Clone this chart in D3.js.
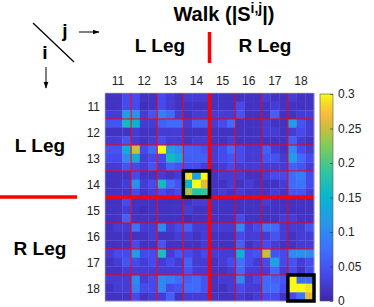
<!DOCTYPE html>
<html lang="en">
<head>
    <meta charset="UTF-8">
    <title>Walk |S(i,j)| matrix</title>
    <style>
        body { margin: 0; background: #fff; }
        svg { display: block; font-family: "Liberation Sans", Arial, Helvetica, sans-serif; }
    </style>
    <script src="https://d3js.org/d3.v7.min.js"></script>
</head>
<body>
    <div id="chart"></div>

    <script>
        // segment labels (rows i / columns j), 3 sub-cells per segment
        const segments = ["11", "12", "13", "14", "15", "16", "17", "18"];
        const colorTicks = [0, 0.05, 0.1, 0.15, 0.2, 0.25, 0.3];
        const highlighted = ["14", "18"];

        // |S(i,j)| values, 24 x 24
        const values = [
            [0.015,0.015,0.04, 0.04,0.015,0.015, 0.04,0.025,0.015, 0.025,0.025,0.025, 0.015,0.015,0.015, 0.015,0.015,0.015, 0.025,0.015,0.015, 0.025,0.015,0.015],
            [0.015,0.015,0.04, 0.04,0.01,0.015, 0.04,0.025,0.015, 0.015,0.015,0.015, 0.015,0.015,0.015, 0.04,0.015,0.015, 0.015,0.025,0.015, 0.015,0.015,0.015],
            [0.025,0.025,0.12, 0.11,0.025,0.05, 0.09,0.07,0.025, 0.015,0.025,0.025, 0.025,0.025,0.025, 0.05,0.015,0.015, 0.015,0.06,0.015, 0.015,0.025,0.025],
            [0.05,0.05,0.16, 0.15,0.025,0.025, 0.06,0.07,0.07, 0.025,0.06,0.06, 0.025,0.04,0.07, 0.015,0.015,0.015, 0.025,0.015,0.015, 0.12,0.05,0.025],
            [0.015,0.015,0.015, 0.025,0.015,0.015, 0.025,0.025,0.025, 0.015,0.015,0.015, 0.015,0.015,0.015, 0.015,0.015,0.015, 0.025,0.025,0.015, 0.025,0.04,0.025],
            [0.025,0.025,0.05, 0.025,0.015,0.025, 0.04,0.025,0.025, 0.015,0.025,0.025, 0.015,0.015,0.025, 0.015,0.015,0.015, 0.015,0.015,0.015, 0.06,0.025,0.015],
            [0.05,0.05,0.14, 0.25,0.04,0.07, 0.30,0.12,0.10, 0.06,0.06,0.05, 0.025,0.04,0.07, 0.04,0.025,0.025, 0.06,0.025,0.015, 0.10,0.04,0.025],
            [0.04,0.04,0.10, 0.14,0.025,0.04, 0.04,0.16,0.13, 0.06,0.06,0.06, 0.025,0.04,0.05, 0.04,0.025,0.025, 0.05,0.05,0.025, 0.12,0.07,0.04],
            [0.025,0.025,0.05, 0.04,0.025,0.05, 0.025,0.06,0.05, 0.04,0.04,0.025, 0.015,0.025,0.04, 0.025,0.025,0.025, 0.025,0.025,0.025, 0.06,0.05,0.025],
            [0.015,0.015,0.015, 0.04,0.015,0.015, 0.025,0.015,0.025, 0.29,0.12,0.30, 0.015,0.025,0.025, 0.025,0.015,0.015, 0.025,0.04,0.04, 0.07,0.09,0.04],
            [0.015,0.015,0.025, 0.11,0.025,0.04, 0.16,0.07,0.05, 0.15,0.30,0.26, 0.015,0.015,0.025, 0.015,0.025,0.015, 0.015,0.015,0.025, 0.07,0.08,0.04],
            [0.015,0.015,0.015, 0.04,0.015,0.025, 0.04,0.025,0.04, 0.24,0.18,0.19, 0.015,0.025,0.015, 0.025,0.015,0.015, 0.015,0.025,0.015, 0.05,0.05,0.025],
            [0.015,0.015,0.04, 0.015,0.015,0.015, 0.015,0.015,0.015, 0.015,0.025,0.025, 0.015,0.015,0.015, 0.015,0.015,0.015, 0.025,0.015,0.015, 0.015,0.015,0.015],
            [0.015,0.015,0.025, 0.015,0.01,0.015, 0.015,0.015,0.015, 0.025,0.015,0.015, 0.015,0.015,0.015, 0.015,0.015,0.015, 0.015,0.015,0.015, 0.015,0.015,0.015],
            [0.015,0.015,0.06, 0.015,0.015,0.015, 0.015,0.015,0.015, 0.01,0.015,0.015, 0.015,0.015,0.015, 0.04,0.015,0.015, 0.015,0.015,0.025, 0.025,0.015,0.015],
            [0.015,0.025,0.025, 0.08,0.025,0.025, 0.10,0.025,0.04, 0.06,0.025,0.025, 0.025,0.025,0.025, 0.10,0.025,0.04, 0.08,0.07,0.025, 0.025,0.025,0.05],
            [0.015,0.015,0.015, 0.015,0.015,0.025, 0.015,0.015,0.025, 0.025,0.015,0.025, 0.015,0.015,0.015, 0.04,0.025,0.025, 0.025,0.05,0.025, 0.015,0.025,0.025],
            [0.015,0.015,0.015, 0.04,0.015,0.015, 0.05,0.015,0.015, 0.015,0.015,0.025, 0.015,0.015,0.015, 0.06,0.015,0.025, 0.04,0.025,0.015, 0.015,0.025,0.025],
            [0.025,0.04,0.04, 0.12,0.04,0.04, 0.17,0.025,0.05, 0.04,0.025,0.04, 0.025,0.025,0.025, 0.15,0.04,0.05, 0.25,0.05,0.04, 0.10,0.11,0.10],
            [0.015,0.025,0.05, 0.04,0.025,0.04, 0.025,0.04,0.025, 0.06,0.025,0.025, 0.015,0.025,0.04, 0.08,0.04,0.025, 0.04,0.13,0.04, 0.05,0.025,0.04],
            [0.015,0.015,0.025, 0.025,0.025,0.025, 0.025,0.025,0.025, 0.05,0.025,0.025, 0.015,0.015,0.025, 0.07,0.025,0.025, 0.025,0.07,0.025, 0.04,0.015,0.04],
            [0.025,0.025,0.025, 0.10,0.025,0.04, 0.10,0.09,0.07, 0.06,0.07,0.05, 0.015,0.025,0.025, 0.10,0.025,0.04, 0.07,0.06,0.05, 0.30,0.07,0.07],
            [0.015,0.025,0.025, 0.09,0.04,0.04, 0.10,0.04,0.05, 0.07,0.07,0.05, 0.015,0.015,0.025, 0.04,0.025,0.025, 0.07,0.07,0.04, 0.30,0.30,0.29],
            [0.015,0.015,0.015, 0.04,0.015,0.025, 0.025,0.06,0.015, 0.025,0.025,0.025, 0.015,0.015,0.015, 0.025,0.015,0.025, 0.04,0.04,0.015, 0.04,0.08,0.26]
        ];

        // parula-like colormap
        const parulaStops = [0, 0.125, 0.25, 0.375, 0.5, 0.625, 0.75, 0.85, 0.9, 0.95, 1];
        const parulaColors = ["#3e26a8", "#4747eb", "#3e6ffe", "#2796eb", "#08b5d0", "#31c59f", "#80cc59",
                              "#d6bb3a", "#fbba3d", "#f5d72a", "#f9fb15"];

        const width = 374, height = 307;
        const sub = 3;
        const n = segments.length * sub;
        const mLeft = 105, mRight = 314, mTop = 93, mBottom = 301;

        const x = d3.scaleLinear().domain([0, n]).range([mLeft, mRight]);
        const y = d3.scaleLinear().domain([0, n]).range([mTop, mBottom]);
        const vmax = 0.3;
        const color = d3.scaleLinear()
            .domain(parulaStops.map(t => t * vmax))
            .range(parulaColors)
            .clamp(true);

        const svg = d3.select("#chart").append("svg")
            .attr("width", width)
            .attr("height", height);

        // cells
        const cells = [];
        values.forEach((row, i) => row.forEach((v, j) => cells.push({ i, j, v })));
        svg.append("g")
            .selectAll("rect")
            .data(cells)
            .enter().append("rect")
            .attr("x", d => x(d.j))
            .attr("y", d => y(d.i))
            .attr("width", x(1) - x(0) + 0.3)
            .attr("height", y(1) - y(0) + 0.3)
            .attr("fill", d => color(d.v));

        // segment grid (red), thick between L and R leg
        const grid = svg.append("g");
        d3.range(1, segments.length).forEach(k => {
            const thick = k === 4;
            grid.append("line")
                .attr("x1", x(k * sub)).attr("x2", x(k * sub))
                .attr("y1", mTop).attr("y2", mBottom)
                .attr("stroke", "#ff0000").attr("stroke-width", thick ? 3.5 : 1);
            grid.append("line")
                .attr("x1", mLeft).attr("x2", mRight)
                .attr("y1", y(k * sub)).attr("y2", y(k * sub))
                .attr("stroke", "#ff0000").attr("stroke-width", thick ? 3.5 : 1);
        });

        svg.append("rect")
            .attr("x", mLeft).attr("y", mTop)
            .attr("width", mRight - mLeft).attr("height", mBottom - mTop)
            .attr("fill", "none").attr("stroke", "#bbb").attr("stroke-width", 0.6);

        // black boxes on selected diagonal blocks
        svg.append("g")
            .selectAll("rect")
            .data(highlighted)
            .enter().append("rect")
            .attr("x", d => x(segments.indexOf(d) * sub))
            .attr("y", d => y(segments.indexOf(d) * sub))
            .attr("width", x(sub) - x(0))
            .attr("height", y(sub) - y(0))
            .attr("fill", "none")
            .attr("stroke", "#000")
            .attr("stroke-width", 3.5);

        // tick labels
        svg.append("g")
            .selectAll("text")
            .data(segments)
            .enter().append("text")
            .attr("x", (d, k) => x(k * sub + sub / 2))
            .attr("y", 85)
            .attr("text-anchor", "middle")
            .attr("font-size", "12px")
            .attr("fill", "#222")
            .text(d => d);

        svg.append("g")
            .selectAll("text")
            .data(segments)
            .enter().append("text")
            .attr("x", 100)
            .attr("y", (d, k) => y(k * sub + sub / 2) + 4.5)
            .attr("text-anchor", "end")
            .attr("font-size", "12px")
            .attr("fill", "#222")
            .text(d => d);

        // title with superscript
        const title = svg.append("text")
            .attr("x", 224).attr("y", 21)
            .attr("text-anchor", "middle")
            .attr("font-size", "20px")
            .attr("font-weight", "bold");
        title.append("tspan").text("Walk (|S");
        title.append("tspan").attr("font-size", "14px").attr("dy", -8).text("i,j");
        title.append("tspan").attr("dy", 8).text("|)");

        // leg labels
        const bold = (tx, ty, s) => svg.append("text")
            .attr("x", tx).attr("y", ty)
            .attr("text-anchor", "middle")
            .attr("font-size", "19px")
            .attr("font-weight", "bold")
            .text(s);
        bold(160, 52, "L Leg");
        bold(265, 52, "R Leg");
        bold(40, 152, "L Leg");
        bold(40, 255, "R Leg");

        svg.append("line")
            .attr("x1", x(12)).attr("x2", x(12))
            .attr("y1", 32).attr("y2", 63)
            .attr("stroke", "#ff0000").attr("stroke-width", 3.5);
        svg.append("line")
            .attr("x1", 0).attr("x2", 77)
            .attr("y1", y(12)).attr("y2", y(12))
            .attr("stroke", "#ff0000").attr("stroke-width", 3.5);

        // i / j corner
        svg.append("line")
            .attr("x1", 33).attr("y1", 23).attr("x2", 74).attr("y2", 62)
            .attr("stroke", "#000").attr("stroke-width", 1.3);
        svg.append("text").attr("x", 65).attr("y", 37).attr("text-anchor", "middle")
            .attr("font-size", "19px").attr("font-weight", "bold").text("j");
        svg.append("text").attr("x", 45).attr("y", 59).attr("text-anchor", "middle")
            .attr("font-size", "19px").attr("font-weight", "bold").text("i");

        svg.append("defs").append("marker")
            .attr("id", "head")
            .attr("viewBox", "0 0 10 10")
            .attr("refX", 9).attr("refY", 5)
            .attr("markerWidth", 7).attr("markerHeight", 7)
            .attr("orient", "auto")
            .append("path").attr("d", "M0,1.5 L10,5 L0,8.5 Z").attr("fill", "#000");
        svg.append("line")
            .attr("x1", 79).attr("y1", 32).attr("x2", 99).attr("y2", 32)
            .attr("stroke", "#000").attr("stroke-width", 1).attr("marker-end", "url(#head)");
        svg.append("line")
            .attr("x1", 46).attr("y1", 67).attr("x2", 46).attr("y2", 88)
            .attr("stroke", "#000").attr("stroke-width", 1).attr("marker-end", "url(#head)");

        // colorbar
        const cbX = 320, cbW = 13;
        const cbY = d3.scaleLinear().domain([0, vmax]).range([301, 94]);
        const grad = svg.select("defs").append("linearGradient")
            .attr("id", "cb")
            .attr("x1", 0).attr("y1", 1).attr("x2", 0).attr("y2", 0);
        grad.selectAll("stop")
            .data(parulaStops)
            .enter().append("stop")
            .attr("offset", d => d)
            .attr("stop-color", (d, k) => parulaColors[k]);
        svg.append("rect")
            .attr("x", cbX).attr("y", cbY(vmax))
            .attr("width", cbW).attr("height", cbY(0) - cbY(vmax))
            .attr("fill", "url(#cb)")
            .attr("stroke", "#555").attr("stroke-width", 0.6);

        const cbAxis = svg.append("g")
            .attr("transform", `translate(${cbX + cbW},0)`)
            .call(d3.axisRight(cbY).tickValues(colorTicks).tickSize(0).tickPadding(5)
                .tickFormat(d => d === 0 ? "0" : String(d)));
        cbAxis.select(".domain").remove();
        cbAxis.selectAll("text")
            .attr("font-size", "12px")
            .attr("font-family", "Liberation Sans, Arial, sans-serif")
            .attr("fill", "#222");
        cbAxis.selectAll(".tick").append("line")
            .attr("x1", -3).attr("x2", 0)
            .attr("stroke", "#333").attr("stroke-width", 0.6);
    </script>
</body>
</html>
